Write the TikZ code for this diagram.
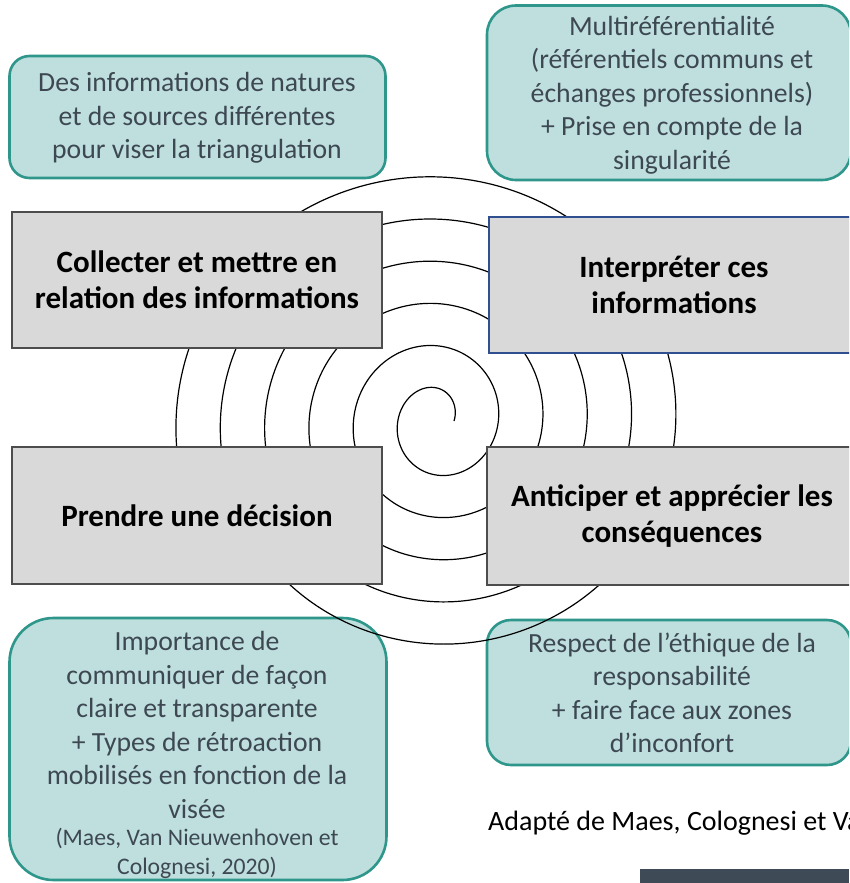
\documentclass[tikz,border=0pt]{standalone}
\usepackage{fontspec}
\setmainfont{Carlito}
\definecolor{tealfill}{HTML}{BEDFDD}
\definecolor{tealline}{HTML}{2E968A}
\definecolor{tealtext}{HTML}{3D4852}
\definecolor{grayfill}{HTML}{D9D9D9}
\definecolor{grayline}{HTML}{4D4D4D}
\definecolor{navyline}{HTML}{2F4F8F}
\definecolor{darkbar}{HTML}{3E4A56}
\tikzset{
  tealbox/.style={draw=tealline, fill=tealfill, line width=2.6pt, rounded corners=#1, inner sep=0pt, shape=rectangle},
  graybox/.style={draw=grayline, fill=grayfill, line width=1.3pt, inner sep=0pt, shape=rectangle, align=center,
    font=\bfseries\fontsize{31}{36}\selectfont, text=black},
  tealtxt/.style={align=center, inner sep=0pt, text=tealtext, font=\fontsize{27.7}{33.5}\selectfont},
  citetxt/.style={align=center, inner sep=0pt, text=tealtext, font=\fontsize{23.7}{29}\selectfont},
  spiralline/.style={draw=black, line width=1.2pt},
}
\begin{document}
\begin{tikzpicture}[x=1pt,y=-1pt]
\useasboundingbox (0,0) rectangle (849,883);
\clip (0,0) rectangle (849,883);
% teal boxes
\node[tealbox=20, minimum width=376pt, minimum height=122pt] (tl) at (197.5,117) {};
\node[tealbox=29, minimum width=364pt, minimum height=174.5pt] (tr) at (669,92.75) {};
\node[tealbox=44, minimum width=377pt, minimum height=262pt] (bl) at (198,749) {};
\node[tealbox=24, minimum width=364pt, minimum height=145pt] (br) at (669,692.5) {};
% spiral
\draw[spiralline] plot[domain=0:34.87, samples=900, smooth, variable=\t]
  ({437+(17+7.06*\t)*cos(\t r)}, {421-(22.45+6.72*\t)*sin(\t r)});
% gray boxes
\node[graybox, minimum width=370pt, minimum height=136pt] (collect) at (197,280)
  {Collecter et mettre en\\relation des informations};
\node[graybox, draw=navyline, line width=1.1pt, minimum width=370pt, minimum height=136pt] (interp) at (674,285)
  {Interpréter ces\\informations};
\node[graybox, minimum width=370pt, minimum height=137pt] (decide) at (197,515.5)
  {Prendre une décision};
\node[graybox, minimum width=370pt, minimum height=138pt] (anticip) at (672,516)
  {Anticiper et apprécier les\\conséquences};
% teal texts
\node[tealtxt] (tltext) at (197,118) {Des informations de natures\\et de sources différentes\\pour viser la triangulation};
\node[tealtxt] (trtext) at (672,95) {Multiréférentialité\\(référentiels communs et\\échanges professionnels)\\+ Prise en compte de la\\singularité};
\node[tealtxt] (bltext) at (197,725) {Importance de\\communiquer de façon\\claire et transparente\\+ Types de rétroaction\\mobilisés en fonction de la\\visée};
\node[citetxt] (blcite) at (197,853) {(Maes, Van Nieuwenhoven et\\Colognesi, 2020)};
\node[tealtxt] (brtext) at (672,693) {Respect de l’éthique de la\\responsabilité\\+ faire face aux zones\\d’inconfort};
% source
\node[anchor=base west, inner sep=0pt, font=\fontsize{28}{33}\selectfont, text=black] (source) at (488,830) {Adapté de Maes, Colognesi et Va};
\fill[darkbar] (640,869) rectangle (849,883);
\end{tikzpicture}
\end{document}
